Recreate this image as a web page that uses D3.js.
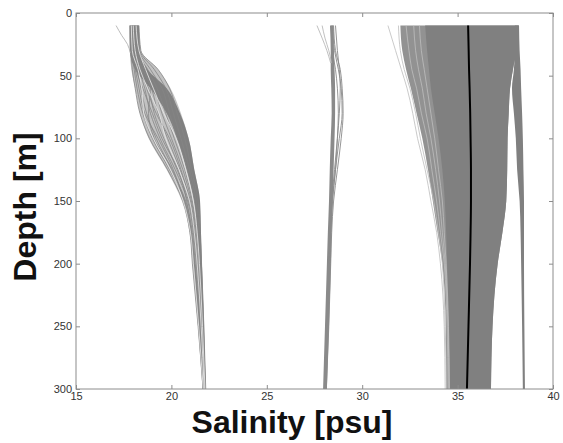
<!DOCTYPE html>
<html lang="en">
<head>
    <meta charset="UTF-8">
    <title>Salinity profiles</title>
    <script src="https://d3js.org/d3.v7.min.js"></script>
    <style>
        body { margin: 0; background: #fff; }
        .tick text { font-family: "Liberation Sans", Arial, sans-serif; font-size: 11px; fill: #333; }
        .tick line { stroke: #8c8c8c; }
        .axis-title { font-family: "Liberation Sans", Arial, sans-serif; font-weight: bold; font-size: 32px; fill: #111; }
        .profile { fill: none; stroke-width: 0.9; }
    </style>
</head>
<body>
<div id="chart"></div>
<script>
    // depth levels (m) at which every profile below is read
    const depths = [10, 30, 45, 60, 80, 100, 125, 150, 175, 200, 250, 300];

    // left group (~18-22 psu): envelope, dense core and single profiles
    const leftEnvMin = [17.8, 17.82, 17.9, 18.1, 18.35, 18.8, 19.75, 20.55, 20.95, 21.1, 21.4, 21.66];
    const leftEnvMax = [18.3, 18.4, 19.3, 19.95, 20.5, 20.9, 21.2, 21.5, 21.55, 21.6, 21.72, 21.8];
    const leftCoreMin = [17.8, 17.82, 18.1, 18.9, 19.75, 20.3, 20.8, 21.2, 21.35, 21.45, 21.55, 21.62];
    const leftCoreMax = [18.3, 18.35, 18.75, 19.75, 20.45, 20.9, 21.2, 21.5, 21.55, 21.6, 21.7, 21.8];
    const leftProfiles = [
        [17.9, 17.9, 17.95, 18.1, 18.35, 18.85, 19.8, 20.6, 20.97, 21.1, 21.4, 21.66],
        [17.95, 17.95, 18.05, 18.2, 18.5, 19.0, 19.9, 20.7, 21.0, 21.2, 21.45, 21.68],
        [18.0, 18.0, 18.2, 18.4, 18.7, 19.2, 20.0, 20.75, 21.1, 21.25, 21.5, 21.7],
        [18.0, 18.05, 18.3, 18.6, 18.9, 19.4, 20.2, 20.85, 21.15, 21.3, 21.52, 21.7],
        [18.05, 18.1, 18.4, 18.8, 19.1, 19.6, 20.3, 20.9, 21.2, 21.35, 21.55, 21.72],
        [18.1, 18.15, 18.5, 18.95, 19.3, 19.8, 20.45, 21.0, 21.25, 21.4, 21.58, 21.72],
        [18.1, 18.2, 18.6, 19.1, 19.5, 20.0, 20.6, 21.05, 21.3, 21.45, 21.6, 21.74],
        [18.15, 18.2, 18.75, 19.25, 19.7, 20.15, 20.7, 21.1, 21.35, 21.48, 21.62, 21.75],
        [18.2, 18.3, 18.9, 19.5, 19.9, 20.3, 20.85, 21.2, 21.4, 21.5, 21.65, 21.76],
        [18.25, 18.35, 19.1, 19.7, 20.1, 20.5, 20.95, 21.3, 21.45, 21.55, 21.68, 21.78],
        [18.3, 18.4, 19.3, 19.9, 20.3, 20.7, 21.05, 21.4, 21.5, 21.58, 21.7, 21.8],
        [17.85, 17.9, 18.1, 18.3, 18.6, 19.3, 20.1, 20.65, 21.0, 21.15, 21.42, 21.66],
        [18.2, 18.25, 18.45, 18.7, 19.2, 19.9, 20.5, 20.95, 21.2, 21.35, 21.55, 21.72],
        [17.95, 18.0, 18.15, 18.5, 19.0, 19.5, 20.35, 20.8, 21.05, 21.2, 21.47, 21.69],
        [18.1, 18.2, 18.55, 18.9, 18.8, 19.1, 20.05, 20.7, 21.05, 21.22, 21.5, 21.7]
    ];
    const leftLightProfiles = [
        [17.9, 17.95, 18.25, 18.45, 18.55, 19.05, 19.95, 20.62, 21.0, 21.15, 21.43, 21.67],
        [18.0, 18.1, 18.35, 18.75, 19.35, 19.7, 20.4, 20.95, 21.2, 21.35, 21.56, 21.72],
        [18.15, 18.3, 18.65, 19.05, 19.6, 20.25, 20.75, 21.15, 21.35, 21.47, 21.63, 21.76]
    ];
    const leftStrayDepths = [10, 18, 25, 32];
    const leftStray = [17.1, 17.4, 17.7, 17.85];

    // middle group (~28 psu)
    const midCoreMin = [28.31, 28.35, 28.35, 28.38, 28.4, 28.35, 28.3, 28.26, 28.2, 28.15, 28.05, 27.95];
    const midCoreMax = [28.5, 28.52, 28.55, 28.58, 28.58, 28.55, 28.5, 28.45, 28.4, 28.36, 28.26, 28.15];
    const midProfiles = [
        [28.5, 28.6, 28.85, 28.95, 29.0, 28.9, 28.7, 28.5, 28.4, 28.35, 28.25, 28.12],
        [28.45, 28.55, 28.75, 28.9, 28.95, 28.8, 28.6, 28.45, 28.35, 28.3, 28.2, 28.1],
        [28.6, 28.7, 28.8, 28.85, 28.8, 28.7, 28.55, 28.4, 28.3, 28.25, 28.15, 28.05],
        [28.4, 28.45, 28.6, 28.7, 28.75, 28.7, 28.6, 28.42, 28.32, 28.27, 28.17, 28.07]
    ];
    const midStrayDepths = [10, 20, 30, 40];
    const midStray = [[27.63, 27.9, 28.15, 28.35], [27.9, 28.05, 28.25, 28.4]];

    // right group (~32-38.5 psu)
    const rightOuterMin = [32.0, 32.1, 32.3, 32.55, 32.85, 33.15, 33.45, 33.7, 33.95, 34.2, 34.38, 34.4];
    const rightInnerMin = [33.3, 33.4, 33.5, 33.6, 33.8, 34.0, 34.2, 34.33, 34.4, 34.45, 34.55, 34.6];
    const rightMainMax = [38.2, 38.1, 37.9, 37.75, 37.68, 37.62, 37.6, 37.55, 37.35, 37.1, 36.83, 36.75];
    const rightSubMin = [38.0, 38.0, 37.95, 37.85, 37.95, 38.05, 38.12, 38.25, 38.3, 38.33, 38.38, 38.42];
    const rightSubMax = [38.22, 38.25, 38.3, 38.33, 38.38, 38.42, 38.45, 38.48, 38.48, 38.48, 38.5, 38.53];
    const rightStray = [
        [31.35, 31.75, 32.05, 32.35, 32.65, 32.9, 33.3, 33.6, 33.9, 34.1, 34.3, 34.35],
        [31.9, 32.0, 32.2, 32.5, 32.8, 33.05, 33.4, 33.75, 34.0, 34.2, 34.35, 34.42]
    ];
    // lighter streaks inside the speckled left edge of the right group
    const rightSpeckle = [
        [32.3, 32.45, 32.6, 32.85, 33.1, 33.4, 33.65, 33.9, 34.1, 34.3, 34.45, 34.5],
        [32.7, 32.8, 32.95, 33.15, 33.35, 33.6, 33.85, 34.05, 34.2, 34.35, 34.5, 34.55],
        [33.0, 33.1, 33.25, 33.4, 33.6, 33.8, 34.0, 34.2, 34.3, 34.4, 34.52, 34.57]
    ];
    const meanProfile = [35.55, 35.58, 35.6, 35.63, 35.66, 35.68, 35.7, 35.7, 35.68, 35.65, 35.57, 35.49];

    const xTicks = [15, 20, 25, 30, 35, 40];
    const yTicks = [0, 50, 100, 150, 200, 250, 300];

    const width = 563, height = 443;
    const margin = { top: 13, right: 10, bottom: 54, left: 76 };
    const w = width - margin.left - margin.right;
    const h = height - margin.top - margin.bottom;

    const svg = d3.select("#chart").append("svg")
        .attr("width", width)
        .attr("height", height);

    const g = svg.append("g")
        .attr("transform", "translate(" + margin.left + "," + margin.top + ")");

    const x = d3.scaleLinear().domain([15, 40]).range([0, w]);
    const y = d3.scaleLinear().domain([0, 300]).range([0, h]);

    const band = (lo, hi, depthArr) => d3.area()
        .y((d, i) => y(depthArr[i]))
        .x0((d, i) => x(lo[i]))
        .x1((d, i) => x(hi[i]))
        .curve(d3.curveMonotoneY)(lo);

    const prof = (vals, depthArr) => d3.line()
        .y((d, i) => y(depthArr[i]))
        .x(d => x(d))
        .curve(d3.curveMonotoneY)(vals);

    function drawLine(vals, depthArr, color, sw) {
        g.append("path").attr("class", "profile")
            .attr("d", prof(vals, depthArr))
            .style("stroke", color)
            .style("stroke-width", sw || 0.9);
    }

    // right group bands
    g.append("path").attr("d", band(rightOuterMin, rightMainMax, depths)).attr("fill", "#929292");
    g.append("path").attr("d", band(rightInnerMin, rightMainMax, depths)).attr("fill", "#808080");
    g.append("path").attr("d", band(rightSubMin, rightSubMax, depths)).attr("fill", "#808080");
    rightSpeckle.forEach(p => drawLine(p, depths, "#c4c4c4", 0.7));
    rightStray.forEach(p => drawLine(p, depths, "#bdbdbd", 0.8));

    // left group
    g.append("path").attr("d", band(leftEnvMin, leftEnvMax, depths)).attr("fill", "#c2c2c2");
    g.append("path").attr("d", band(leftCoreMin, leftCoreMax, depths)).attr("fill", "#808080");
    leftProfiles.forEach(p => drawLine(p, depths, "#858585", 0.8));
    leftLightProfiles.forEach(p => drawLine(p, depths, "#ececec", 0.8));
    drawLine(leftStray, leftStrayDepths, "#aaa", 0.8);

    // middle group
    g.append("path").attr("d", band(midCoreMin, midCoreMax, depths)).attr("fill", "#8a8a8a");
    midProfiles.forEach(p => drawLine(p, depths, "#8a8a8a", 0.9));
    midStray.forEach(p => drawLine(p, midStrayDepths, "#b0b0b0", 0.8));

    // mean profile
    g.append("path").attr("d", prof(meanProfile, depths))
        .attr("fill", "none").attr("stroke", "#000").attr("stroke-width", 2);

    // axes, ticks pointing inward on all four sides
    g.append("g").attr("transform", "translate(0," + h + ")")
        .call(d3.axisBottom(x).tickValues(xTicks).tickSize(-4).tickPadding(3))
        .call(a => a.select(".domain").remove());
    g.append("g")
        .call(d3.axisTop(x).tickValues(xTicks).tickSize(-4).tickFormat(""))
        .call(a => a.select(".domain").remove());
    g.append("g")
        .call(d3.axisLeft(y).tickValues(yTicks).tickSize(-4).tickPadding(4))
        .call(a => a.select(".domain").remove());
    g.append("g").attr("transform", "translate(" + w + ",0)")
        .call(d3.axisRight(y).tickValues(yTicks).tickSize(-4).tickFormat(""))
        .call(a => a.select(".domain").remove());

    g.append("rect")
        .attr("width", w).attr("height", h)
        .attr("fill", "none").attr("stroke", "#8c8c8c");

    // titles
    svg.append("text").attr("class", "axis-title")
        .attr("x", 292).attr("y", 433)
        .attr("text-anchor", "middle")
        .text("Salinity [psu]");

    svg.append("text").attr("class", "axis-title")
        .attr("transform", "translate(36,207) rotate(-90)")
        .attr("text-anchor", "middle")
        .text("Depth [m]");
</script>
</body>
</html>
